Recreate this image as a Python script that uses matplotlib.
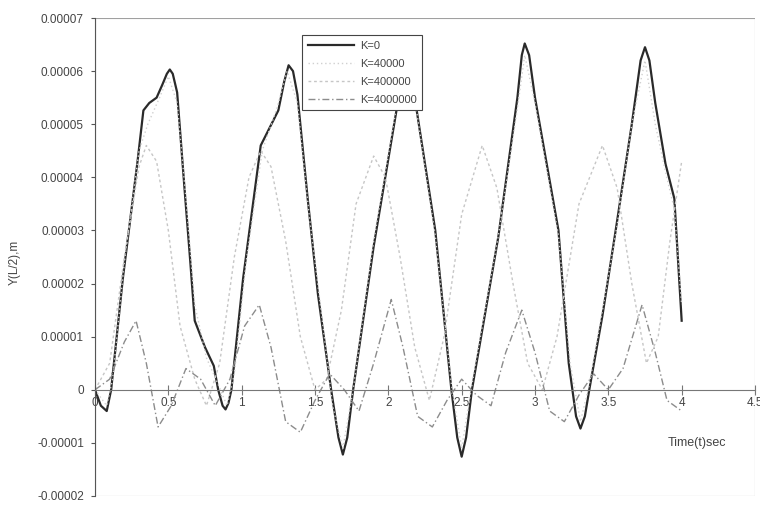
import matplotlib
matplotlib.use("Agg")
import matplotlib.pyplot as plt
import numpy as np
from matplotlib.patches import Rectangle

plt.rcParams["font.family"] = ["Liberation Sans", "DejaVu Sans"]

# values in units of 1e-5 m
t_k0 = [0, 0.04, 0.08, 0.11, 0.19, 0.29, 0.33, 0.37, 0.42, 0.46, 0.49, 0.51, 0.53, 0.56,
        0.61, 0.65, 0.68, 0.75, 0.81, 0.84, 0.87, 0.89, 0.91, 0.93, 1.01, 1.13, 1.25, 1.29,
        1.32, 1.35, 1.38, 1.45, 1.52, 1.61, 1.66, 1.69, 1.72, 1.76, 1.90, 2.07, 2.10, 2.12,
        2.15, 2.18, 2.32, 2.43, 2.47, 2.50, 2.53, 2.57, 2.75, 2.88, 2.91, 2.93, 2.96, 3.00,
        3.16, 3.23, 3.28, 3.31, 3.34, 3.37, 3.46, 3.55, 3.66, 3.72, 3.75, 3.78, 3.82, 3.89,
        3.95, 4.00]
y_k0 = [0, -0.3, -0.4, 0.0, 2.1, 4.3, 5.26, 5.4, 5.5, 5.75, 5.95, 6.03, 5.95, 5.6,
        3.8, 2.4, 1.3, 0.8, 0.45, 0.0, -0.3, -0.37, -0.25, 0.0, 2.1, 4.6, 5.26, 5.8,
        6.11, 6.0, 5.56, 3.6, 1.8, 0.0, -0.9, -1.22, -0.9, 0.0, 2.7, 5.5, 6.1, 6.3,
        6.1, 5.5, 3.0, 0.0, -0.9, -1.26, -0.9, 0.0, 2.88, 5.5, 6.3, 6.52, 6.3, 5.5,
        3.0, 0.5, -0.5, -0.73, -0.5, 0.0, 1.4, 3.0, 5.0, 6.2, 6.45, 6.2, 5.4, 4.25,
        3.6, 1.3]

t_k1 = [0, 0.08, 0.12, 0.20, 0.30, 0.36, 0.44, 0.50, 0.56, 0.62, 0.68, 0.76, 0.84, 0.90,
        0.95, 1.03, 1.14, 1.24, 1.31, 1.38, 1.46, 1.55, 1.62, 1.69, 1.76, 1.90, 2.06, 2.12,
        2.19, 2.32, 2.43, 2.50, 2.57, 2.75, 2.88, 2.93, 3.00, 3.16, 3.24, 3.31, 3.37, 3.46,
        3.56, 3.66, 3.75, 3.82, 3.89, 3.95, 4.00]
y_k1 = [0, -0.3, 0.2, 2.4, 4.5, 5.0, 5.5, 5.9, 5.4, 3.6, 1.6, 0.6, 0.1, -0.3,
        0.3, 2.4, 4.5, 5.3, 6.0, 5.4, 3.3, 1.3, -0.3, -1.1, 0.0, 2.8, 5.4, 6.1,
        5.3, 2.9, 0.1, -1.1, 0.1, 2.9, 5.3, 6.3, 5.4, 2.9, 0.5, -0.6, 0.1, 1.5,
        3.1, 5.0, 6.2, 5.0, 4.1, 3.4, 1.6]

t_k2 = [0, 0.10, 0.20, 0.30, 0.35, 0.42, 0.50, 0.58, 0.68, 0.76, 0.85, 0.95, 1.05, 1.13,
        1.20, 1.30, 1.40, 1.50, 1.58, 1.68, 1.78, 1.90, 1.98, 2.08, 2.18, 2.28, 2.38, 2.50,
        2.64, 2.74, 2.85, 2.95, 3.05, 3.15, 3.30, 3.46, 3.56, 3.66, 3.76, 3.84, 3.92, 4.00]
y_k2 = [0, 0.5, 2.5, 4.2, 4.6, 4.3, 3.0, 1.2, 0.2, -0.3, 0.5, 2.5, 4.0, 4.5,
        4.2, 2.8, 1.0, 0.0, 0.2, 1.5, 3.5, 4.4, 4.0, 2.5, 0.8, -0.2, 1.0, 3.3,
        4.6, 3.8, 2.0, 0.5, 0.0, 1.0, 3.5, 4.6, 3.8, 2.0, 0.5, 1.0, 2.8, 4.3]

t_k3 = [0, 0.10, 0.20, 0.28, 0.35, 0.43, 0.52, 0.62, 0.72, 0.82, 0.92, 1.02, 1.12, 1.20,
        1.30, 1.40, 1.50, 1.60, 1.70, 1.80, 1.90, 2.02, 2.10, 2.20, 2.30, 2.40, 2.50, 2.60,
        2.70, 2.80, 2.91, 3.00, 3.10, 3.20, 3.30, 3.40, 3.50, 3.60, 3.73, 3.82, 3.90, 4.00]
y_k3 = [0, 0.2, 0.9, 1.3, 0.5, -0.7, -0.3, 0.4, 0.2, -0.3, 0.2, 1.2, 1.6, 0.8,
        -0.6, -0.8, -0.2, 0.3, 0.0, -0.4, 0.5, 1.7, 0.8, -0.5, -0.7, -0.2, 0.2, -0.1,
        -0.3, 0.7, 1.5, 0.7, -0.4, -0.6, -0.1, 0.3, 0.0, 0.4, 1.6, 0.7, -0.2, -0.4]

labels = ["K=0", "K=40000", "K=400000", "K=4000000"]
y_ticks = [-0.00002, -0.00001, 0, 0.00001, 0.00002, 0.00003, 0.00004, 0.00005, 0.00006, 0.00007]
y_ticklabels = ["-0.00002", "-0.00001", "0", "0.00001", "0.00002", "0.00003", "0.00004",
                "0.00005", "0.00006", "0.00007"]
x_ticks = [0, 0.5, 1, 1.5, 2, 2.5, 3, 3.5, 4, 4.5]
x_ticklabels = ["0", "0.5", "1", "1.5", "2", "2.5", "3", "3.5", "4", "4.5"]

sc = 1e-5

fig = plt.figure(figsize=(7.6, 5.05), dpi=100)
ax = fig.add_axes([95 / 760, 9 / 505, 660 / 760, 478 / 505])

ax.plot(t_k0, np.array(y_k0) * sc, color="#2a2a2a", lw=1.6, label=labels[0])
ax.plot(t_k1, np.array(y_k1) * sc, color="#d0d0d0", lw=1.0, ls=(0, (1, 2)), label=labels[1])
ax.plot(t_k2, np.array(y_k2) * sc, color="#c6c6c6", lw=1.0, ls=(0, (2, 2)), label=labels[2])
ax.plot(t_k3, np.array(y_k3) * sc, color="#8c8c8c", lw=1.0, ls=(0, (5, 2, 1, 2)), label=labels[3])

ax.set_xlim(0, 4.5)
ax.set_ylim(-0.00002, 0.00007)

# excel-like frame, x axis crossing at zero
for s in ["top", "right"]:
    ax.spines[s].set_visible(False)
ax.spines["left"].set_color("#555555")
ax.spines["bottom"].set_position(("data", 0))
ax.spines["bottom"].set_color("#777777")
ax.spines["bottom"].set_linewidth(0.8)
ax.add_patch(Rectangle((0, 0), 1, 1, transform=ax.transAxes, fill=False,
                       edgecolor="#a0a0a0", lw=0.8, zorder=0))

ax.set_yticks(y_ticks)
ax.set_yticklabels(y_ticklabels)
ax.set_xticks(x_ticks)
ax.set_xticklabels(x_ticklabels)
ax.tick_params(axis="y", direction="out", length=3, color="#555555", labelsize=8.5,
               labelcolor="#444444", pad=5)
ax.tick_params(axis="x", direction="inout", length=7, color="#777777", labelsize=8.5,
               labelcolor="#444444", pad=2)

fig.text(15 / 760, 1 - 262 / 505, "Y(L/2),m", rotation=90, ha="center", va="center",
         fontsize=8.5, color="#444444")
fig.text(697 / 760, 1 - 443 / 505, "Time(t)sec", ha="center", va="center",
         fontsize=9, color="#444444")

leg = ax.legend(loc="upper left", bbox_to_anchor=(302 / 760, 1 - 35 / 505),
                bbox_transform=fig.transFigure, fontsize=8, frameon=True,
                framealpha=1, fancybox=False, handlelength=4.2, labelspacing=0.72,
                borderpad=0.5, handletextpad=0.5, borderaxespad=0)
leg.get_frame().set_edgecolor("#444444")
leg.get_frame().set_linewidth(0.8)
for txt in leg.get_texts():
    txt.set_color("#444444")

fig.savefig("out.png", dpi=100, facecolor="white")
